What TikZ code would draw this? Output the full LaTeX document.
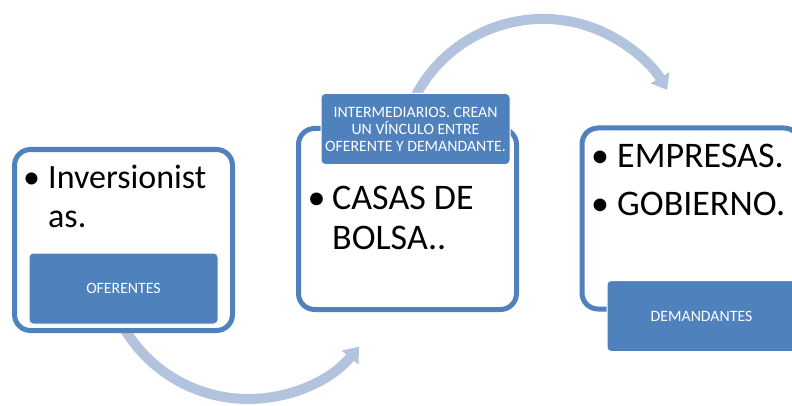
\documentclass[tikz,border=0pt]{standalone}
\usepackage{fontspec}
\setmainfont{Carlito}
\usetikzlibrary{arrows.meta}
\definecolor{accent}{HTML}{4F81BD}
\definecolor{arrowblue}{RGB}{178,195,222}
\begin{document}
\begin{tikzpicture}[x=1pt,y=1pt,
  outerbox/.style={draw=accent, line width=5pt, fill=white, rounded corners=16pt,
    minimum width=218pt, minimum height=181pt, inner sep=0pt},
  labelbox/.style={fill=accent, draw=white, line width=1pt, rounded corners=4pt,
    minimum width=189pt, minimum height=71pt, inner sep=2pt, text=white,
    align=center, font=\fontsize{15.8}{17}\selectfont},
  bigtext/.style={anchor=base west, inner sep=0pt, font=\fontsize{36}{40}\selectfont},
  bigbullet/.style={anchor=base, inner sep=0pt, font=\fontsize{36}{40}\selectfont},
  flow/.style={draw=arrowblue, line width=10pt, -{Triangle[length=14pt,width=21pt]}}
]
\useasboundingbox (0,0) rectangle (792,405);
\clip (0,0) rectangle (792,405);
% arrows
\coordinate (ts) at (412.5,302.9);
\draw[flow] (ts) arc[start angle=155, end angle=30.5, radius=144];
\coordinate (bs) at (118.6,86.9);
\draw[flow] (bs) arc[start angle=206, end angle=320.4, radius=144];
% outer boxes
\node[outerbox] (left) at (123.5,165) {};
\node[outerbox] (mid) at (407.5,186) {};
\node[outerbox] (right) at (691,186.5) {};
% label boxes
\node[labelbox] (ofer) at (123.5,116.5) {OFERENTES};
\node[labelbox] (inter) at (415.5,276) {INTERMEDIARIOS. CREAN\\UN VÍNCULO ENTRE\\OFERENTE Y DEMANDANTE.};
\node[labelbox] (dem) at (701.5,89) {DEMANDANTES};
% texts left
\node[bigbullet, font=\fontsize{34}{40}\selectfont] (lb1) at (31.5,217) {•};
\node[bigtext, font=\fontsize{34}{40}\selectfont] (lt1) at (48,217) {Inversionist};
\node[bigtext, font=\fontsize{34}{40}\selectfont] (lt2) at (48,178) {as.};
% texts middle
\node[bigbullet] (mb1) at (316.5,196) {•};
\node[bigtext] (mt1) at (332,196) {CASAS DE};
\node[bigtext] (mt2) at (332,156) {BOLSA..};
% texts right
\node[bigbullet] (rb1) at (600,237) {•};
\node[bigtext] (rt1) at (617,237) {EMPRESAS.};
\node[bigbullet] (rb2) at (600,190) {•};
\node[bigtext] (rt2) at (617,190) {GOBIERNO.};
\end{tikzpicture}
\end{document}
